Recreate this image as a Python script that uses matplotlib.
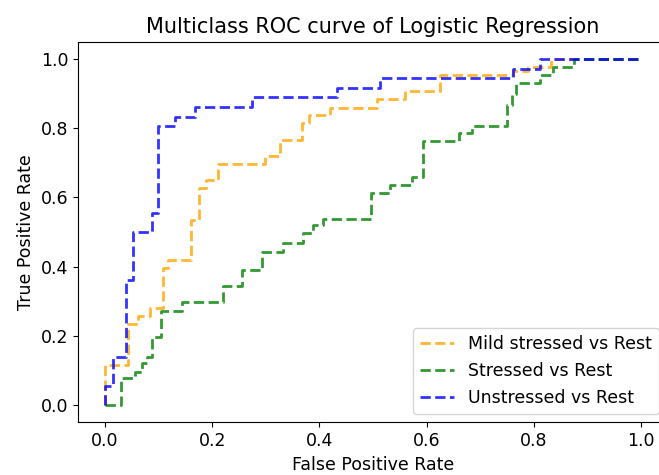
import matplotlib
matplotlib.use("Agg")
import matplotlib.pyplot as plt

# one-vs-rest ROC points (fpr, tpr) for each class
mild_fpr = [0, 0, 0.043, 0.043, 0.062, 0.062, 0.084, 0.084, 0.108, 0.108,
            0.118, 0.118, 0.160, 0.160, 0.175, 0.175, 0.188, 0.188, 0.211, 0.211,
            0.298, 0.298, 0.326, 0.326, 0.367, 0.367, 0.381, 0.381, 0.420, 0.420,
            0.507, 0.507, 0.560, 0.560, 0.625, 0.625, 0.761, 0.761, 0.790, 0.790,
            0.832, 0.832, 1.0]
mild_tpr = [0, 0.116, 0.116, 0.233, 0.233, 0.256, 0.256, 0.279, 0.279, 0.395,
            0.395, 0.419, 0.419, 0.535, 0.535, 0.628, 0.628, 0.651, 0.651, 0.698,
            0.698, 0.721, 0.721, 0.767, 0.767, 0.814, 0.814, 0.837, 0.837, 0.860,
            0.860, 0.884, 0.884, 0.907, 0.907, 0.953, 0.953, 0.965, 0.965, 0.977,
            0.977, 1.0, 1.0]

stressed_fpr = [0, 0.030, 0.030, 0.056, 0.056, 0.069, 0.069, 0.078, 0.078, 0.088,
                0.088, 0.104, 0.104, 0.144, 0.144, 0.220, 0.220, 0.256, 0.256, 0.293,
                0.293, 0.332, 0.332, 0.369, 0.369, 0.388, 0.388, 0.407, 0.407, 0.496,
                0.496, 0.532, 0.532, 0.573, 0.573, 0.593, 0.593, 0.660, 0.660, 0.685,
                0.685, 0.750, 0.750, 0.759, 0.759, 0.767, 0.767, 0.812, 0.812, 0.836,
                0.836, 0.875, 0.875, 1.0]
stressed_tpr = [0, 0, 0.078, 0.078, 0.095, 0.095, 0.120, 0.120, 0.139, 0.139,
                0.197, 0.197, 0.272, 0.272, 0.298, 0.298, 0.344, 0.344, 0.390, 0.390,
                0.442, 0.442, 0.468, 0.468, 0.497, 0.497, 0.520, 0.520, 0.538, 0.538,
                0.613, 0.613, 0.636, 0.636, 0.659, 0.659, 0.763, 0.763, 0.786, 0.786,
                0.806, 0.806, 0.867, 0.867, 0.900, 0.900, 0.931, 0.931, 0.954, 0.954,
                0.977, 0.977, 1.0, 1.0]

unstressed_fpr = [0, 0, 0.015, 0.015, 0.040, 0.040, 0.052, 0.052, 0.088, 0.088,
                  0.099, 0.099, 0.131, 0.131, 0.168, 0.168, 0.274, 0.274, 0.433, 0.433,
                  0.513, 0.513, 0.761, 0.761, 0.811, 0.811, 1.0]
unstressed_tpr = [0, 0.056, 0.056, 0.139, 0.139, 0.361, 0.361, 0.500, 0.500, 0.556,
                  0.556, 0.806, 0.806, 0.833, 0.833, 0.861, 0.861, 0.889, 0.889, 0.917,
                  0.917, 0.944, 0.944, 0.972, 0.972, 1.0, 1.0]

fig = plt.figure(figsize=(6.59, 4.75), dpi=100)
ax = fig.add_axes([0.1187, 0.111, 0.8947, 0.801])

ax.plot(mild_fpr, mild_tpr, linestyle='--', lw=2, alpha=0.8, color='orange',
        label='Mild stressed vs Rest')
ax.plot(stressed_fpr, stressed_tpr, linestyle='--', lw=2, alpha=0.8, color='green',
        label='Stressed vs Rest')
ax.plot(unstressed_fpr, unstressed_tpr, linestyle='--', lw=2, alpha=0.8, color='blue',
        label='Unstressed vs Rest')

ax.set_title('Multiclass ROC curve of Logistic Regression', fontsize=15)
ax.set_xlabel('False Positive Rate', fontsize=12.5)
ax.set_ylabel('True Positive Rate', fontsize=12.5)
ax.tick_params(labelsize=12.5)
ax.legend(loc='lower right', fontsize=12.5)

fig.savefig('out.png', dpi=100)
